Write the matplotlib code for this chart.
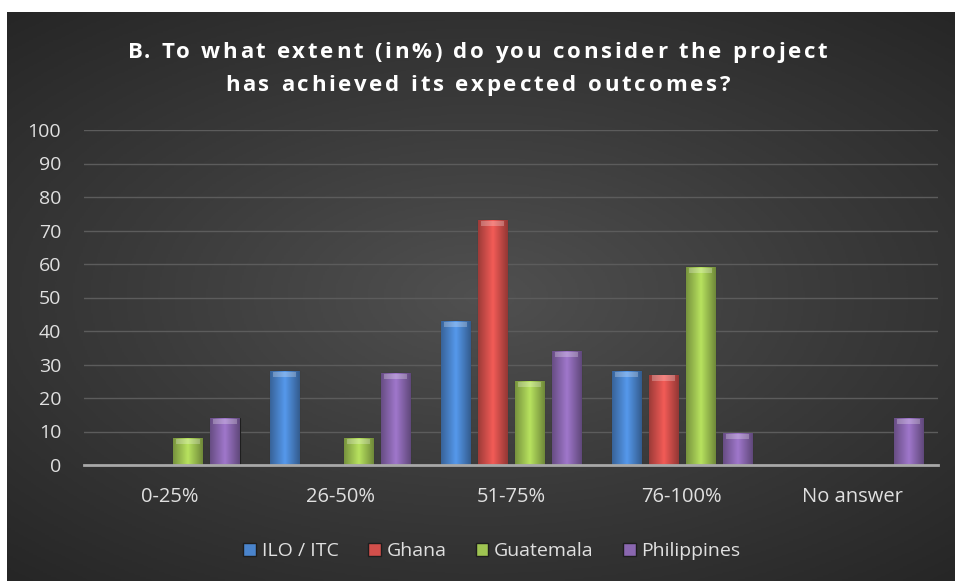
import numpy as np
import matplotlib
matplotlib.use("Agg")
import matplotlib.pyplot as plt
from matplotlib.patches import Patch
from matplotlib.font_manager import FontProperties

# data
categories = ["0-25%", "26-50%", "51-75%", "76-100%", "No answer"]
ilo = [0, 28, 43, 28, 0]
ghana = [0, 0, 73, 27, 0]
guatemala = [8, 8, 25, 59, 0]
philippines = [14, 27.5, 34, 9.5, 14]

series = [("ILO / ITC", ilo, "#4a84cc"),
          ("Ghana", ghana, "#d24f4b"),
          ("Guatemala", guatemala, "#9fc452"),
          ("Philippines", philippines, "#8a67b0")]

title_lines = ["B. To what extent (in%) do you consider the project",
               "has achieved its expected outcomes?"]

plt.rcParams['font.family'] = ['Open Sans', 'DejaVu Sans']

W, H = 955, 581
fig = plt.figure(figsize=(W / 100, H / 100), dpi=100)
fig.patch.set_facecolor("white")

# dark radial-gradient background (white strip on top / left like the original)
bg = fig.add_axes([7 / W, 0, 1 - 7 / W, 1 - 12 / H])
yy, xx = np.mgrid[-1:1:300j, -1:1:500j]
r = np.sqrt((xx * 0.9) ** 2 + (yy * 1.0) ** 2)
bg.imshow(r, cmap=matplotlib.colors.LinearSegmentedColormap.from_list(
    "bg", ["#505050", "#3a3a3a", "#262626"]), vmin=0, vmax=1.35,
    aspect="auto", extent=[0, 1, 0, 1])
bg.set_axis_off()

ax = fig.add_axes([84 / W, 116 / H, 854 / W, 335 / H])
ax.set_facecolor("none")

x = np.arange(len(categories))
width = 0.17
pitch = 0.217
shade = np.concatenate([np.linspace(0.75, 1.15, 32), np.linspace(1.15, 0.7, 32)]).reshape(1, -1)

for i, (name, vals, col) in enumerate(series):
    pos = x + (i - 1.5) * pitch
    bars = ax.bar(pos, vals, width, color=col, edgecolor="#1e1e1e",
                  linewidth=0.8, zorder=3, label=name)
    base = np.array(matplotlib.colors.to_rgb(col))
    img = np.clip(base[None, None, :] * shade[..., None], 0, 1)
    for b, v in zip(bars, vals):
        if v <= 0:
            continue
        im = ax.imshow(img, extent=[b.get_x(), b.get_x() + b.get_width(), 0, v],
                       aspect="auto", zorder=3.5, interpolation="bilinear")
        im.set_clip_path(b)
        # light cap at the top of each bar
        ax.bar(b.get_x() + b.get_width() / 2, 1.6, b.get_width() * 0.8,
               bottom=v - 1.8, color="white", alpha=0.25, zorder=4, linewidth=0)

ax.set_xlim(-0.5, len(categories) - 0.5)
ax.set_ylim(0, 100)
ax.set_yticks(range(0, 101, 10))
ax.set_xticks(x)
ax.set_xticklabels(categories)
ax.tick_params(axis="both", colors="#e0e0e0", length=0)
ax.tick_params(axis="y", pad=16.5, labelsize=14)
ax.tick_params(axis="x", pad=16, labelsize=14.5)
ax.grid(axis="y", color="#5c5c5c", linewidth=1, zorder=0)
for s in ["top", "right", "left"]:
    ax.spines[s].set_visible(False)
ax.spines["bottom"].set_color("#a8a8a8")
ax.spines["bottom"].set_linewidth(2)
ax.spines["bottom"].set_zorder(5)

# title with letter spacing, drawn one character at a time
renderer = fig.canvas.get_renderer()
tprop = FontProperties(family=['Open Sans', 'DejaVu Sans'], weight="bold", size=16)


def tw(s):
    return renderer.get_text_width_height_descent(s, tprop, ismath=False)[0]


def spaced_title(text, baseline_px, total_px):
    n = len(text)
    sp = (total_px - tw(text)) / (n - 1)
    x0 = W / 2 - total_px / 2
    for k, ch in enumerate(text):
        if ch == " ":
            continue
        left = tw(text[:k + 1]) - tw(ch)
        fig.text((x0 + left + k * sp) / W, 1 - baseline_px / H, ch,
                 ha="left", va="baseline", color="white", fontproperties=tprop)


spaced_title(title_lines[0], 58, 700)
spaced_title(title_lines[1], 91, 505)

handles = [Patch(facecolor=c, edgecolor="#1e1e1e", label=n) for n, _, c in series]
leg = fig.legend(handles=handles, loc="center", bbox_to_anchor=(492 / W, 1 - 551 / H),
                 ncol=4, frameon=False, fontsize=14, handlelength=0.65,
                 handleheight=0.65, handletextpad=0.3, columnspacing=1.5)
for t in leg.get_texts():
    t.set_color("#e0e0e0")

fig.savefig("out.png", dpi=100, facecolor=fig.get_facecolor())
